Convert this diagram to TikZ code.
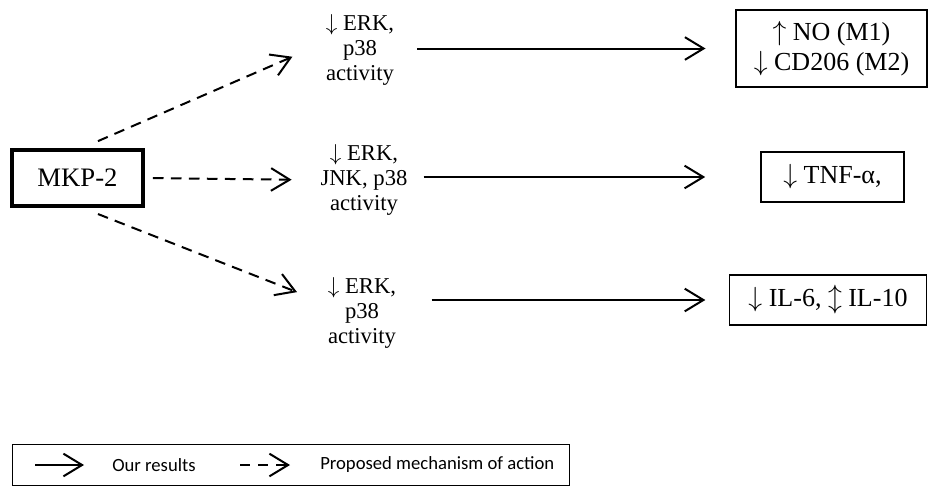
\documentclass[tikz,border=0pt]{standalone}
\usepackage{fontspec}
\setmainfont{Liberation Serif}
\newfontfamily\keyfont{Carlito}
\usetikzlibrary{arrows.meta}

\begin{document}
\begin{tikzpicture}[x=0.75pt,y=0.75pt,yscale=-1,xscale=1,
    barb/.style={-{Straight Barb[length=14pt,width=17pt,line width=1.5pt]}},
    found/.style={barb, line width=1.5pt},
    proposed/.style={barb, line width=1.5pt, dash pattern={on 8pt off 5.5pt}},
    effect/.style={draw, line width=1.2pt, outer sep=0pt, align=center, font=\fontsize{19.5}{22.5}\selectfont},
    erk/.style={align=center, inner sep=2pt, font=\fontsize{17}{18.75}\selectfont}]
    \useasboundingbox (0,0) rectangle (928,486);

    %Rect: phosphatase
    \node [draw, line width=3pt, outer sep=0pt, minimum width=98pt, minimum height=42pt, font=\fontsize{20}{24}\selectfont] (mkp) at (77.5,178) {MKP-2};

    % Text Node
    \node [erk] (erkA) at (360,50) {$\downarrow$ ERK,\\p38\\activity};
    % Text Node
    \node [erk] (erkB) at (364,180) {$\downarrow$ ERK,\\JNK, p38\\activity};
    % Text Node
    \node [erk] (erkC) at (362,313) {$\downarrow$ ERK,\\p38\\activity};

    %Rect: outcomes
    \node [effect, minimum width=143pt, minimum height=57.5pt] (resA) at (831.5,48.5) {$\uparrow$ NO (M1)\\$\downarrow$ CD206 (M2)};
    \node [effect, minimum width=107pt, minimum height=37.5pt] (resB) at (832.5,177) {$\downarrow$ TNF-α,};
    \node [effect, minimum width=148pt, minimum height=37.5pt] (resC) at (828,300) {$\downarrow$ IL-6, $\updownarrow$ IL-10};

    %Dashed Lines
    \draw [proposed, shorten <=16.7pt, shorten >=25pt] (mkp.north) -- (erkA.170);
    \draw [proposed, shorten <=7.5pt, shorten >=19.5pt] (mkp.east) -- (erkB.west);
    \draw [proposed, shorten <=16.5pt, shorten >=22.5pt] (mkp.south) -- (erkC.165);

    %Straight Lines
    \draw [found, shorten <=15pt, shorten >=23pt] (erkA.east |- resA.west) -- (resA.west);
    \draw [found, shorten <=10pt, shorten >=42pt] (erkB.east |- resB.west) -- (resB.west);
    \draw [found, shorten <=24.5pt, shorten >=18pt] (erkC.east |- resC.west) -- (resC.west);

    %Legend
    \node [draw, line width=1pt, outer sep=0pt, minimum width=418pt, minimum height=31pt] (legend) at (291,465) {};
    \coordinate (solidA) at (35,465);
    \coordinate (solidB) at (84,465);
    \coordinate (dashA) at (240,465);
    \coordinate (dashB) at (290,465);
    \draw [barb, line width=1.2pt] (solidA) -- (solidB);
    \draw [barb, line width=1.2pt, dash pattern={on 7.5pt off 6pt}] (dashA) -- (dashB);
    % Text Node
    \node [anchor=west, inner sep=0pt, font=\keyfont\fontsize{14}{17}\selectfont] (ours) at (112,465) {Our results};
    % Text Node
    \node [anchor=west, inner sep=0pt, font=\keyfont\fontsize{14}{17}\selectfont] (mech) at (320,465) {Proposed mechanism of action};
\end{tikzpicture}
\end{document}
